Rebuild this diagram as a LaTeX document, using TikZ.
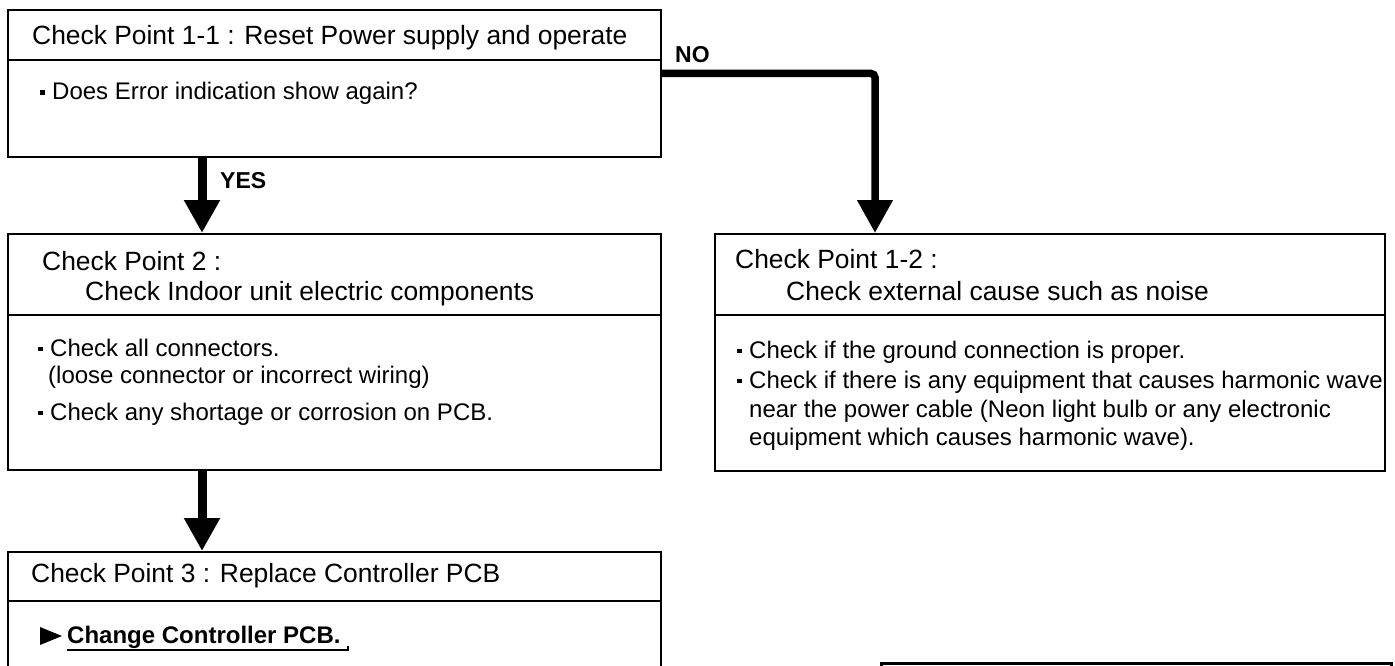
\documentclass[tikz,border=0pt]{standalone}
\usepackage{fontspec}
\setmainfont{Liberation Sans}
\usetikzlibrary{arrows.meta}
\newcommand\sqb{\makebox[12pt][l]{\rule[5pt]{4.5pt}{4.5pt}}}
\begin{document}
\begin{tikzpicture}[x=1pt,y=-1pt,
  box/.style={draw=black, line width=1.6pt, rectangle, anchor=north west, inner sep=0pt},
  hdr/.style={anchor=base west, inner sep=0pt, font=\fontsize{26.4}{30}\selectfont},
  txt/.style={anchor=base west, inner sep=0pt, font=\fontsize{24}{29}\selectfont},
  lbl/.style={anchor=base west, inner sep=0pt, font=\fontsize{23}{27}\selectfont\bfseries},
  sep/.style={line width=1.6pt},
  flow/.style={-{Triangle[width=34pt,length=33pt]}, line width=9pt},
]
\useasboundingbox (0,0) rectangle (1395,666);
\clip (0,0) rectangle (1395,666);

% boxes
\node[box, minimum width=653pt, minimum height=147pt] (b1) at (7,9) {};
\node[box, minimum width=653pt, minimum height=236pt] (b2) at (7,233) {};
\node[box, minimum width=653pt, minimum height=200pt] (b3) at (7,551) {};
\node[box, minimum width=670pt, minimum height=237pt] (b12) at (714,233) {};
\node[box, line width=2.6pt, minimum width=510pt, minimum height=100pt] (b4) at (880,662) {};

% header separators
\draw[sep] (7,60) -- (660,60);
\draw[sep] (7,315) -- (660,315);
\draw[sep] (7,601) -- (660,601);
\draw[sep] (714,315) -- (1384,315);

% texts box 1
\node[hdr] (t11) at (32,45) {Check Point 1-1 : Reset Power supply and operate};
\node[txt] (t12) at (40,100) {\sqb Does Error indication show again?};

% texts box 2
\node[hdr] (t21) at (42,270) {Check Point 2 :};
\node[hdr] (t22) at (85,300) {Check Indoor unit electric components};
\node[txt] (t23) at (38,356) {\sqb Check all connectors.};
\node[txt] (t24) at (48,383) {(loose connector or incorrect wiring)};
\node[txt] (t25) at (38,420) {\sqb Check any shortage or corrosion on PCB.};

% texts box 1-2
\node[hdr] (t31) at (735,268) {Check Point 1-2 :};
\node[hdr] (t32) at (786,300) {Check external cause such as noise};
\node[txt] (t33) at (737,358) {\sqb Check if the ground connection is proper.};
\node[txt] (t34) at (737,388) {\sqb Check if there is any equipment that causes harmonic wave};
\node[txt] (t35) at (749,417) {near the power cable (Neon light bulb or any electronic};
\node[txt] (t36) at (749,445) {equipment which causes harmonic wave).};

% texts box 3
\node[hdr] (t41) at (31,582) {Check Point 3 : Replace Controller PCB};
\fill (40,627) -- (62,636) -- (40,645) -- cycle;
\node[txt, font=\fontsize{24}{29}\selectfont\bfseries] (t42) at (67,643) {Change Controller PCB.};
\draw[line width=1.5pt] (67,650) -- (348,650) -- (348,646);

% arrows
\coordinate (ax) at (202,0);
\draw[flow] (b1.south -| ax) -- (b2.north -| ax);
\draw[flow] (b2.south -| ax) -- (b3.north -| ax);
\coordinate (nos) at (660,73.5);
\coordinate (noe) at (875,233);
\draw[flow, line width=7.5pt, rounded corners=4pt] (nos) -| (noe);

% labels
\node[lbl] (yes) at (220,188) {YES};
\node[lbl] (no) at (675,63) {NO};
\end{tikzpicture}
\end{document}
